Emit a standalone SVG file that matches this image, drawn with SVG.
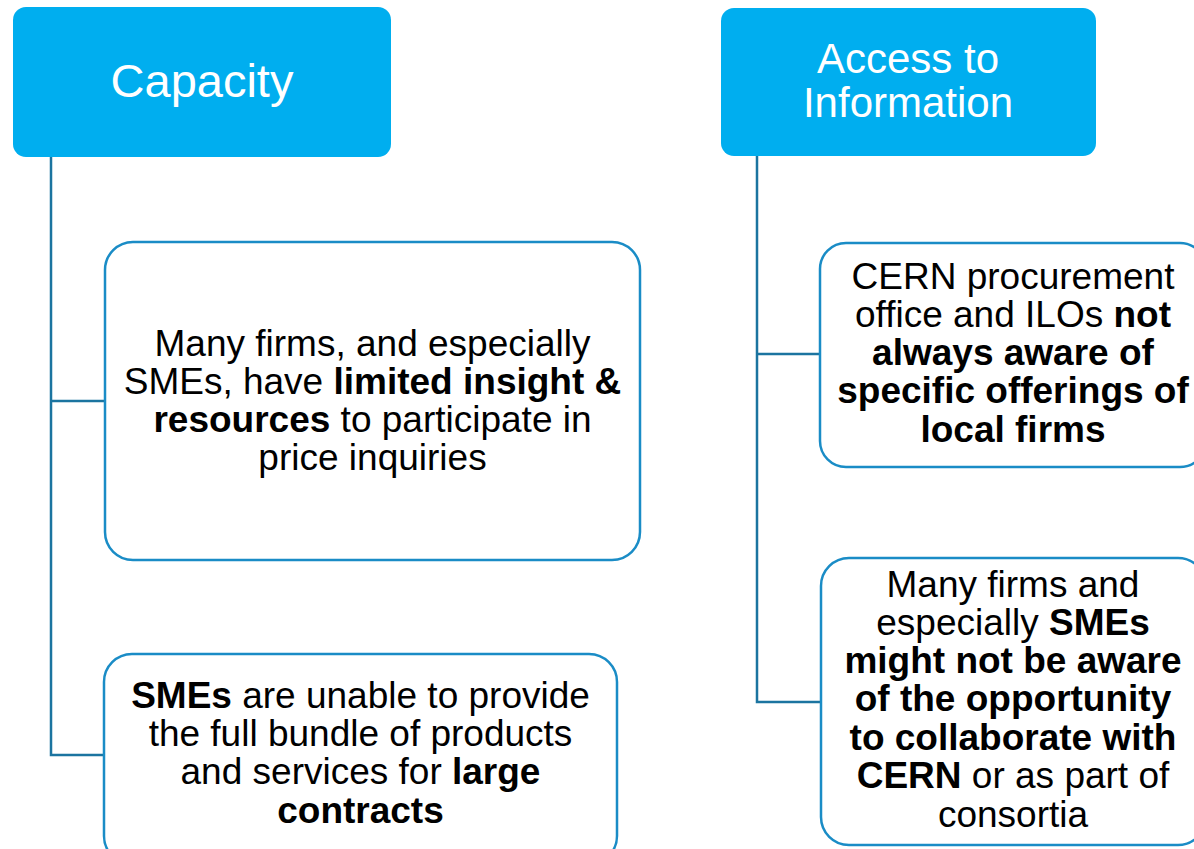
<svg xmlns="http://www.w3.org/2000/svg" width="1194" height="849" viewBox="0 0 1194 849">
<style>
.hdr{fill:#00AEEF;}
.hdrt{fill:#ffffff;font-family:"Liberation Sans",Arial,sans-serif;text-anchor:middle;}
.box{fill:#ffffff;stroke:#1A8CC6;stroke-width:2.5;}
.bt{fill:#000000;font-family:"Liberation Sans",Arial,sans-serif;font-size:37px;text-anchor:middle;}
.b{font-weight:bold;}
.con{fill:none;stroke:#1B74A0;stroke-width:2.5;}
</style>
<rect width="1194" height="849" fill="#ffffff"/>
<g id="connectors">
<path class="con" d="M51,157 V755 H104 M51,401 H105"/>
<path class="con" d="M757,156 V702 H820 M757,354 H819"/>
</g>
<g id="capacity">
<rect class="hdr" x="13" y="7" width="378" height="150" rx="13"/>
<text class="hdrt" x="202" y="97" font-size="47">Capacity</text>
</g>
<g id="access">
<rect class="hdr" x="721" y="8" width="375" height="148" rx="13"/>
<text class="hdrt" x="908" y="73" font-size="42">Access to</text>
<text class="hdrt" x="908" y="117" font-size="42">Information</text>
</g>
<g id="box1">
<rect class="box" x="105" y="242" width="535" height="318" rx="28"/>
<text class="bt"><tspan x="372.5" y="356">Many firms, and especially</tspan><tspan x="372.5" y="394">SMEs, have <tspan class="b">limited insight &amp;</tspan></tspan><tspan x="372.5" y="432"><tspan class="b">resources</tspan> to participate in</tspan><tspan x="372.5" y="470">price inquiries</tspan></text>
</g>
<g id="box2">
<rect class="box" x="104" y="654" width="513" height="210" rx="28"/>
<text class="bt"><tspan x="360.5" y="708"><tspan class="b">SMEs</tspan> are unable to provide</tspan><tspan x="360.5" y="746">the full bundle of products</tspan><tspan x="360.5" y="784">and services for <tspan class="b">large</tspan></tspan><tspan x="360.5" y="823" class="b">contracts</tspan></text>
</g>
<g id="box3">
<rect class="box" x="820" y="243" width="386" height="224" rx="26"/>
<text class="bt"><tspan x="1013" y="289">CERN procurement</tspan><tspan x="1013" y="327">office and ILOs <tspan class="b">not</tspan></tspan><tspan x="1013" y="365" class="b">always aware of</tspan><tspan x="1013" y="403" class="b">specific offerings of</tspan><tspan x="1013" y="442" class="b">local firms</tspan></text>
</g>
<g id="box4">
<rect class="box" x="821" y="558" width="385" height="287" rx="28"/>
<text class="bt"><tspan x="1013" y="597">Many firms and</tspan><tspan x="1013" y="635">especially <tspan class="b">SMEs</tspan></tspan><tspan x="1013" y="673" class="b">might not be aware</tspan><tspan x="1013" y="711" class="b">of the opportunity</tspan><tspan x="1013" y="750" class="b">to collaborate with</tspan><tspan x="1013" y="788"><tspan class="b">CERN</tspan> or as part of</tspan><tspan x="1013" y="827">consortia</tspan></text>
</g>
</svg>
